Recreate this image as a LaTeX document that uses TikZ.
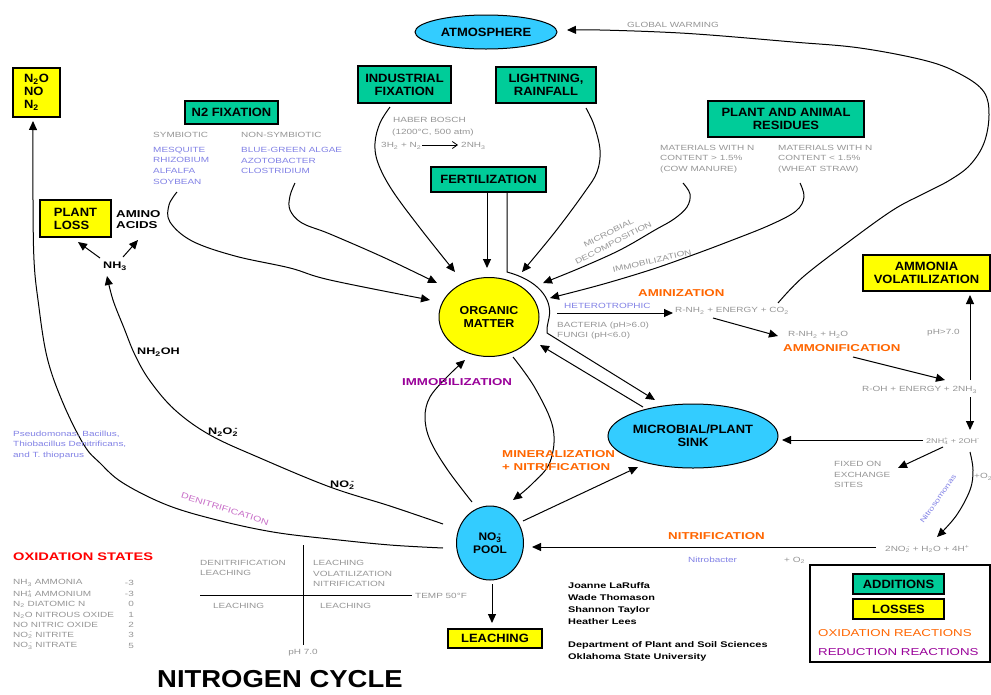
\documentclass[tikz,border=0pt]{standalone}
\usepackage{fontspec}
\setmainfont{Liberation Sans}
\newfontfamily\fw[FakeStretch=1.33]{Liberation Sans}
\newfontfamily\fb[FakeStretch=1.08]{Liberation Sans}
\newfontfamily\ft[FakeStretch=1.12]{Liberation Sans}
\usetikzlibrary{shapes.geometric,arrows.meta}
\definecolor{grn}{RGB}{0,204,153}
\definecolor{cyn}{RGB}{51,204,255}
\definecolor{yel}{RGB}{255,255,0}
\definecolor{org}{RGB}{255,102,0}
\definecolor{pur}{RGB}{153,0,153}
\definecolor{gtx}{RGB}{150,150,150}
\definecolor{btx}{RGB}{130,130,230}
\definecolor{lpur}{RGB}{200,110,200}
\newcommand{\sbsp}[2]{\textsubscript{#1}\llap{\textsuperscript{#2}}}
\tikzset{
 conn/.style={line width=1pt},
 arr/.style={conn,-{Triangle[length=9pt,width=8pt]}},
 gbox/.style={draw,line width=1.3pt,fill=grn,inner sep=0pt,align=center,font=\fb\bfseries\fontsize{12}{13}\selectfont},
 ybox/.style={gbox,fill=yel},
 oval/.style={ellipse,draw,line width=1pt,inner sep=0pt,align=center,font=\fb\bfseries\fontsize{12}{13}\selectfont},
 sm/.style={inner sep=0pt,anchor=west,align=left,text=gtx,font=\fw\fontsize{7.5}{10.7}\selectfont},
 bl/.style={sm,text=btx},
 olab/.style={inner sep=0pt,anchor=west,align=left,text=org,font=\fw\bfseries\fontsize{10}{12.5}\selectfont},
 blab/.style={inner sep=0pt,anchor=west,align=left,font=\fw\bfseries\fontsize{9.5}{12}\selectfont},
 auth/.style={inner sep=0pt,anchor=west,font=\fw\bfseries\fontsize{8.2}{10}\selectfont},
}
\begin{document}
\begin{tikzpicture}[x=1pt,y=-1pt]
\fill[white] (0,0) rectangle (991,694);
\useasboundingbox (0,0) rectangle (991,694);

% ---------- boxes ----------
\node[ybox,minimum width=47pt,minimum height=49pt,align=left,font=\fb\bfseries\fontsize{12}{13}\selectfont] (n2o) at (36.5,92.5) {N\textsubscript{2}O\\NO\\N\textsubscript{2}};
\node[ybox,minimum width=71pt,minimum height=37pt,align=left] (ploss) at (75.5,218.5) {PLANT\\LOSS};
\node[gbox,minimum width=93pt,minimum height=23pt] (n2fix) at (231.5,112.5) {N2 FIXATION};
\node[gbox,minimum width=93pt,minimum height=37pt] (indus) at (404.5,84.5) {INDUSTRIAL\\FIXATION};
\node[gbox,minimum width=100pt,minimum height=36pt] (light) at (546,85) {LIGHTNING,\\RAINFALL};
\node[gbox,minimum width=115pt,minimum height=25pt] (fert) at (488.5,179.5) {FERTILIZATION};
\node[gbox,minimum width=156pt,minimum height=36pt] (resid) at (786,119) {PLANT AND ANIMAL\\RESIDUES};
\node[ybox,minimum width=127pt,minimum height=36pt] (ammvol) at (926.5,273) {AMMONIA\\VOLATILIZATION};
\node[ybox,minimum width=94pt,minimum height=19pt] (leach) at (495,638.5) {LEACHING};

% ---------- ellipses ----------
\node[oval,fill=cyn,minimum width=142pt,minimum height=34pt] (atm) at (486,32) {ATMOSPHERE};
\node[oval,fill=yel,minimum width=100pt,minimum height=79pt,font=\fb\bfseries\fontsize{11.5}{13}\selectfont] (om) at (489,317) {ORGANIC\\MATTER};
\node[oval,fill=cyn,minimum width=150pt,minimum height=64pt] (sink) at (693,436) {MICROBIAL/PLANT\\SINK};
\node[oval,fill=cyn,minimum width=67pt,minimum height=74pt,font=\fb\bfseries\fontsize{11}{12.5}\selectfont] (pool) at (490,543) {NO\sbsp{3}{-}\\POOL};

% ---------- legend ----------
\node[draw,line width=1.2pt,minimum width=180pt,minimum height=97pt,inner sep=0pt] (legend) at (900,613.5) {};
\node[gbox,minimum width=91pt,minimum height=20pt] (addi) at (898.5,584) {ADDITIONS};
\node[ybox,minimum width=91pt,minimum height=20pt] (loss) at (898.5,609) {LOSSES};
\node[inner sep=0pt,anchor=west,text=org,font=\fw\fontsize{10}{12}\selectfont] (oxr) at (818,633) {OXIDATION REACTIONS};
\node[inner sep=0pt,anchor=west,text=pur,font=\fw\fontsize{10}{12}\selectfont] (redr) at (818,652) {REDUCTION REACTIONS};

% ---------- coordinates ----------
\coordinate (gwS) at (778,303);
\coordinate (gwE) at (567,30);
\coordinate (dnS) at (443,548);
\coordinate (dnE) at (33,121);
\coordinate (nhS) at (443,524);
\coordinate (nhE) at (107,276);
\coordinate (syS) at (177,192);
\coordinate (syE) at (430,300);
\coordinate (nsS) at (295,183);
\coordinate (nsE) at (437,283);
\coordinate (inS) at (390,107);
\coordinate (inE) at (455,272);
\coordinate (liS) at (586,108);
\coordinate (liE) at (522,272);
\coordinate (f1S) at (487,192);
\coordinate (f1E) at (487,268);
\coordinate (f2S) at (507,192);
\coordinate (f2M) at (507,272);
\coordinate (skE) at (655,400);
\coordinate (skS) at (643,407);
\coordinate (omE) at (540,345);
\coordinate (htS) at (557,313);
\coordinate (htE) at (673,313);
\coordinate (rlS) at (683,183);
\coordinate (rlE) at (543,283);
\coordinate (rrS) at (800,183);
\coordinate (rrE) at (550,298);
\coordinate (a1S) at (713,318);
\coordinate (a1E) at (778,336);
\coordinate (a2S) at (853,357);
\coordinate (a2E) at (945,380);
\coordinate (vuS) at (970,380);
\coordinate (vuE) at (970,295);
\coordinate (vdS) at (970,397);
\coordinate (vdE) at (970,430);
\coordinate (nkS) at (923,440);
\coordinate (nkE) at (782,440);
\coordinate (fxS) at (943,447);
\coordinate (fxE) at (898,468);
\coordinate (nsmS) at (970,452);
\coordinate (nsmE) at (937,537);
\coordinate (ntS) at (876,547);
\coordinate (ntE) at (532,547);
\coordinate (psS) at (523,521);
\coordinate (psE) at (638,467);
\coordinate (mnS) at (513,357);
\coordinate (mnE) at (513,500);
\coordinate (imS) at (472,502);
\coordinate (imE) at (465,360);
\coordinate (lcS) at (492,584);
\coordinate (lcE) at (492,623);
\coordinate (n3S) at (100,258);
\coordinate (n3E) at (78,242);
\coordinate (n4S) at (123,257);
\coordinate (n4E) at (138,240);
\coordinate (hbS) at (422,145);
\coordinate (hbE) at (458,145);

% ---------- connectors ----------
\draw[arr] plot[smooth,tension=0.6] coordinates {(gwS) (803,277) (847,243) (893,210) (925,193) (950,180) (970,165) (984,143) (989,115) (984,92) (962,75) (927,61) (860,48) (793,42) (710,35) (660,32) (600,30) (gwE)};
\draw[arr] plot[smooth,tension=0.6] coordinates {(dnS) (390,545) (330,539) (273,532) (217,520) (167,505) (123,483) (100,463) (84,445) (63,403) (47,357) (38,300) (34,260) (33,200) (dnE)};
\draw[arr] plot[smooth,tension=0.6] coordinates {(nhS) (390,506) (330,487) (260,458) (210,435) (175,410) (150,381) (135,355) (124,328) (113,300) (nhE)};
\draw[arr] (n3S) -- (n3E);
\draw[arr] (n4S) -- (n4E);
\draw[arr] plot[smooth,tension=0.6] coordinates {(syS) (169,205) (170,222) (192,241) (235,256) (290,268) (330,280) (syE)};
\draw[arr] plot[smooth,tension=0.6] coordinates {(nsS) (290,196) (290,210) (302,223) (330,234) (385,258) (nsE)};
\draw[arr] plot[smooth,tension=0.6] coordinates {(inS) (380,123) (375,143) (378,163) (392,190) (420,228) (inE)};
\draw[arr] plot[smooth,tension=0.6] coordinates {(liS) (594,125) (600,150) (597,172) (584,193) (555,232) (liE)};
\draw[arr] (f1S) -- (f1E);
\draw[arr] (f2S) -- (f2M) .. controls (537,280) and (553,298) .. (549,318) .. controls (547,327) .. (547,333) -- (skE);
\draw[arr] (skS) -- (omE);
\draw[arr] (htS) -- (htE);
\draw[arr] plot[smooth,tension=0.6] coordinates {(rlS) (690,194) (687,207) (674,219) (655,230) (620,250) (580,268) (rlE)};
\draw[arr] plot[smooth,tension=0.6] coordinates {(rrS) (804,197) (796,211) (770,225) (730,241) (690,256) (650,270) (600,285) (rrE)};
\draw[arr] (a1S) -- (a1E);
\draw[arr] (a2S) -- (a2E);
\draw[arr] (vuS) -- (vuE);
\draw[arr] (vdS) -- (vdE);
\draw[arr] (nkS) -- (nkE);
\draw[arr] (fxS) -- (fxE);
\draw[arr] plot[smooth,tension=0.6] coordinates {(nsmS) (973,470) (970,490) (956,516) (nsmE)};
\draw[arr] (ntS) -- (ntE);
\draw[arr] (psS) -- (psE);
\draw[arr] plot[smooth,tension=0.6] coordinates {(mnS) (535,388) (553,428) (550,462) (532,484) (mnE)};
\draw[arr] plot[smooth,tension=0.6] coordinates {(imS) (447,469) (430,440) (425,417) (430,397) (447,377) (imE)};
\draw[arr] (lcS) -- (lcE);
\draw[line width=0.8pt,-{Straight Barb[length=5pt,width=7pt]}] (hbS) -- (hbE);

% ---------- labels: top ----------
\node[sm] (gw) at (627,25) {GLOBAL WARMING};
\node[sm] (hb1) at (393,120) {HABER BOSCH};
\node[sm] (hb2) at (392,133) {(1200°C, 500 atm)};
\node[sm] (hb3) at (381,146) {3H\textsubscript{2} + N\textsubscript{2}};
\node[sm] (hb4) at (461,146) {2NH\textsubscript{3}};
\node[sm] (sym) at (153,135) {SYMBIOTIC};
\node[sm] (nsym) at (241,135) {NON-SYMBIOTIC};
\node[bl] (syml) at (153,165.5) {MESQUITE\\RHIZOBIUM\\ALFALFA\\SOYBEAN};
\node[bl] (nsyml) at (241,160.5) {BLUE-GREEN ALGAE\\AZOTOBACTER\\CLOSTRIDIUM};
\node[sm] (mat1) at (660,159) {MATERIALS WITH N\\CONTENT > 1.5\%\\(COW MANURE)};
\node[sm] (mat2) at (778,159) {MATERIALS WITH N\\CONTENT < 1.5\%\\(WHEAT STRAW)};
\node[sm,anchor=center,align=center,rotate=27] (mdec) at (611,238) {MICROBIAL\\DECOMPOSITION};
\node[sm,anchor=center,rotate=13] (imm2) at (652,261) {IMMOBILIZATION};

% ---------- labels: right ----------
\node[olab] (amin) at (638,293) {AMINIZATION};
\node[bl] (het) at (564,306) {HETEROTROPHIC};
\node[sm] (bact) at (557,330.5) {BACTERIA (pH>6.0)\\FUNGI (pH<6.0)};
\node[sm] (rnh1) at (675,311) {R-NH\textsubscript{2} + ENERGY + CO\textsubscript{2}};
\node[sm] (rnh2) at (788,335) {R-NH\textsubscript{2} + H\textsubscript{2}O};
\node[olab] (ammon) at (783,348) {AMMONIFICATION};
\node[sm] (roh) at (862,390) {R-OH + ENERGY + 2NH\textsubscript{3}};
\node[sm] (ph7) at (927,333) {pH>7.0};
\node[sm,font=\fw\fontsize{6.8}{9}\selectfont] (nh4) at (926,441) {2NH\sbsp{4}{+} + 2OH\textsuperscript{-}};
\node[sm] (fixed) at (834,474.5) {FIXED ON\\EXCHANGE\\SITES};
\node[sm] (o2a) at (974,477) {+O\textsubscript{2}};
\node[bl,anchor=center,rotate=55,font=\fw\fontsize{7}{9}\selectfont] (nsm) at (938,499) {Nitrosomonas};
\node[sm] (no2) at (885,549) {2NO\sbsp{2}{-} + H\textsubscript{2}O + 4H\textsuperscript{+}};
\node[olab] (nitr) at (668,536) {NITRIFICATION};
\node[bl] (nbac) at (688,560) {Nitrobacter};
\node[sm] (o2b) at (784,560) {+ O\textsubscript{2}};

% ---------- labels: centre ----------
\node[olab] (miner) at (502,460.5) {MINERALIZATION\\+ NITRIFICATION};
\node[olab,text=pur] (immo) at (402,382) {IMMOBILIZATION};

% ---------- labels: left ----------
\node[blab] (nh3) at (103,266) {NH\textsubscript{3}};
\node[blab,font=\fw\bfseries\fontsize{10}{11}\selectfont] (amino) at (116,219.5) {AMINO\\ACIDS};
\node[blab] (nh2oh) at (137,352) {NH\textsubscript{2}OH};
\node[blab] (n2o2) at (208,432) {N\textsubscript{2}O\sbsp{2}{-}};
\node[blab] (no2m) at (330,485) {NO\sbsp{2}{-}};
\node[bl] (pseudo) at (13,445) {Pseudomonas, Bacillus,\\Thiobacillus Denitrificans,\\and T. thioparus};
\node[inner sep=0pt,text=lpur,font=\fw\fontsize{8}{10}\selectfont,rotate=-17.5] (denit) at (225,509) {DENITRIFICATION};

% ---------- oxidation states ----------
\node[inner sep=0pt,anchor=west,text=red,font=\fw\bfseries\fontsize{11}{13}\selectfont] (oxst) at (13,557) {OXIDATION STATES};
\foreach \yy/\lab/\val in {583/{NH\textsubscript{3} AMMONIA}/-3, 594/{NH\sbsp{4}{+} AMMONIUM}/-3, 604/{N\textsubscript{2} DIATOMIC N}/0, 615/{N\textsubscript{2}O NITROUS OXIDE}/1, 625/{NO NITRIC OXIDE}/2, 635/{NO\sbsp{2}{-} NITRITE}/3, 646/{NO\sbsp{3}{-} NITRATE}/5}{
  \node[sm] at (13,\yy) {\lab};
  \node[sm,anchor=east] at (134,\yy) {\val};
}

% ---------- pH / temperature chart ----------
\coordinate (cvT) at (303,545);
\coordinate (cvB) at (303,645);
\coordinate (chL) at (200,595);
\coordinate (chR) at (412,595);
\draw[conn] (cvT) -- (cvB);
\draw[conn] (chL) -- (chR);
\node[sm] (c1) at (200,568) {DENITRIFICATION\\LEACHING};
\node[sm] (c2) at (313,573.5) {LEACHING\\VOLATILIZATION\\NITRIFICATION};
\node[sm] (c3) at (213,606) {LEACHING};
\node[sm] (c4) at (320,606) {LEACHING};
\node[sm] (temp) at (415,596) {TEMP 50°F};
\node[sm,anchor=center] (ph) at (303,653) {pH 7.0};

% ---------- title and authors ----------
\node[inner sep=0pt,anchor=west,font=\ft\bfseries\fontsize{24.5}{26}\selectfont] (title) at (157,679) {NITROGEN CYCLE};
\node[auth] (au1) at (568,586) {Joanne LaRuffa};
\node[auth] (au2) at (568,598) {Wade Thomason};
\node[auth] (au3) at (568,610) {Shannon Taylor};
\node[auth] (au4) at (568,622) {Heather Lees};
\node[auth] (au5) at (568,645) {Department of Plant and Soil Sciences};
\node[auth] (au6) at (568,657) {Oklahoma State University};
\end{tikzpicture}
\end{document}
